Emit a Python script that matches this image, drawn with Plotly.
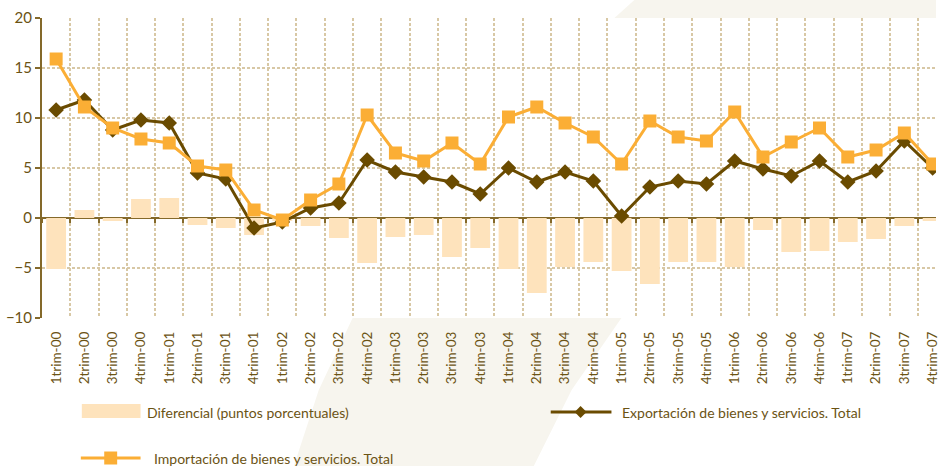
import plotly.graph_objects as go

categories = [f"{q}trim-{y:02d}" for y in range(0, 8) for q in (1, 2, 3, 4)]

exportacion = [10.8, 11.8, 8.8, 9.8, 9.5, 4.5, 3.9, -1.0,
               -0.4, 1.0, 1.5, 5.8, 4.6, 4.1, 3.6, 2.4,
               5.0, 3.6, 4.6, 3.7, 0.2, 3.1, 3.7, 3.4,
               5.7, 4.9, 4.2, 5.7, 3.6, 4.7, 7.7, 5.0]
importacion = [15.9, 11.1, 9.0, 7.9, 7.5, 5.2, 4.8, 0.8,
               -0.2, 1.8, 3.4, 10.3, 6.5, 5.7, 7.5, 5.4,
               10.1, 11.1, 9.5, 8.1, 5.4, 9.7, 8.1, 7.7,
               10.6, 6.1, 7.6, 9.0, 6.1, 6.8, 8.5, 5.4]
diferencial = [-5.1, 0.8, -0.3, 1.9, 2.0, -0.7, -1.0, -1.7,
               -0.3, -0.8, -2.0, -4.5, -1.9, -1.7, -3.9, -3.0,
               -5.1, -7.5, -4.9, -4.4, -5.3, -6.6, -4.4, -4.4,
               -4.9, -1.2, -3.4, -3.3, -2.4, -2.1, -0.8, -0.3]

y_ticks = [-10, -5, 0, 5, 10, 15, 20]

TXT = "#6b5314"
DARK = "#6a4b00"
ORANGE = "#fbae35"
PEACH = "#fee3bc"
GRID = "#d8c8a5"
AXIS = "#84692a"
WM = "#f7f5ee"
FONT = "Lato, 'Open Sans', sans-serif"

W, H = 940, 466
L, R, T, B = 42, 940, 18, 318


def px(x):
    return (x - L) / (R - L)


def py(y):
    return (B - y) / (B - T)


fig = go.Figure()

fig.add_trace(go.Bar(x=categories, y=diferencial, name="Diferencial (puntos porcentuales)",
                     marker=dict(color=PEACH, line=dict(width=0)), width=0.7, showlegend=False))
fig.add_trace(go.Scatter(x=categories, y=exportacion, mode="lines+markers",
                         name="Exportación de bienes y servicios. Total",
                         line=dict(color=DARK, width=3),
                         marker=dict(symbol="diamond", size=12, color=DARK), showlegend=False))
fig.add_trace(go.Scatter(x=categories, y=importacion, mode="lines+markers",
                         name="Importación de bienes y servicios. Total",
                         line=dict(color=ORANGE, width=3),
                         marker=dict(symbol="square", size=13, color=ORANGE), showlegend=False))
# helper trace for the tick marks along the zero line
fig.add_trace(go.Scatter(x=categories, y=exportacion, mode="none", xaxis="x2",
                         hoverinfo="skip", showlegend=False))

n_span = (R - L) / 28.4
x_range = [-0.5, -0.5 + n_span]

shapes = []


def poly(points):
    d = "M " + " L ".join(f"{px(a):.5f},{py(b):.5f}" for a, b in points) + " Z"
    return dict(type="path", xref="paper", yref="paper", path=d,
                fillcolor=WM, line=dict(width=0), layer="below")


# faint watermark band (visible outside the plot area)
shapes.append(poly([(617, 18), (637, 0), (940, 0), (940, 18)]))
shapes.append(poly([(354, 318), (624, 318), (574, 390), (536, 466), (295, 466), (320, 390)]))

# legend swatches
shapes.append(dict(type="rect", xref="paper", yref="paper", x0=px(82), x1=px(141),
                   y0=py(418), y1=py(404), fillcolor=PEACH, line=dict(width=0)))
shapes.append(dict(type="line", xref="paper", yref="paper", x0=px(553), x1=px(614),
                   y0=py(412), y1=py(412), line=dict(color=DARK, width=3)))
cx, cy, r = 583, 412, 6
shapes.append(dict(type="path", xref="paper", yref="paper",
                   path=f"M {px(cx - r)},{py(cy)} L {px(cx)},{py(cy - r)} L {px(cx + r)},{py(cy)} L {px(cx)},{py(cy + r)} Z",
                   fillcolor=DARK, line=dict(width=0)))
shapes.append(dict(type="line", xref="paper", yref="paper", x0=px(81), x1=px(141),
                   y0=py(458), y1=py(458), line=dict(color=ORANGE, width=3)))
s = 6.5
shapes.append(dict(type="rect", xref="paper", yref="paper", x0=px(111 - s), x1=px(111 + s),
                   y0=py(458 + s), y1=py(458 - s), fillcolor=ORANGE, line=dict(width=0)))

annotations = [
    dict(text="Diferencial (puntos porcentuales)", x=px(145), y=py(412), xref="paper", yref="paper",
         xanchor="left", yanchor="middle", showarrow=False, font=dict(size=14, color=TXT, family=FONT)),
    dict(text="Exportación de bienes y servicios. Total", x=px(623), y=py(412), xref="paper", yref="paper",
         xanchor="left", yanchor="middle", showarrow=False, font=dict(size=14, color=TXT, family=FONT)),
    dict(text="Importación de bienes y servicios. Total", x=px(152), y=py(458), xref="paper", yref="paper",
         xanchor="left", yanchor="middle", showarrow=False, font=dict(size=14, color=TXT, family=FONT)),
]

fig.update_layout(
    width=W, height=H,
    margin=dict(l=L, r=W - R, t=T, b=H - B),
    paper_bgcolor="white", plot_bgcolor="white",
    font=dict(family=FONT, color=TXT),
    shapes=shapes,
    annotations=annotations,
    xaxis=dict(type="category", categoryorder="array", categoryarray=categories,
               range=x_range, tickangle=-90, tickson="boundaries",
               showgrid=True, gridcolor=GRID, griddash="3px,2px", gridwidth=1.5,
               ticks="", showline=False, zeroline=False,
               tickfont=dict(size=13.5, color=TXT, family=FONT), ticklabelstandoff=10),
    xaxis2=dict(type="category", categoryorder="array", categoryarray=categories,
                range=x_range, overlaying="x", anchor="free", position=py(218),
                tickson="boundaries", ticks="outside", ticklen=4, tickcolor=AXIS, tickwidth=2,
                showticklabels=False, showgrid=False, showline=False, zeroline=False),
    yaxis=dict(range=[-10, 20], tickvals=y_ticks, showgrid=True, gridcolor=GRID,
               griddash="3px,2px", gridwidth=1.5,
               zeroline=True, zerolinecolor=AXIS, zerolinewidth=2,
               showline=True, linecolor=AXIS, linewidth=2,
               ticks="outside", ticklen=5, tickcolor=AXIS, tickwidth=2,
               tickfont=dict(size=15, color=TXT, family=FONT)),
)

fig.write_html("out.html", config={"displayModeBar": False},
               post_script="document.body.style.margin='0';document.body.style.overflow='hidden';")
